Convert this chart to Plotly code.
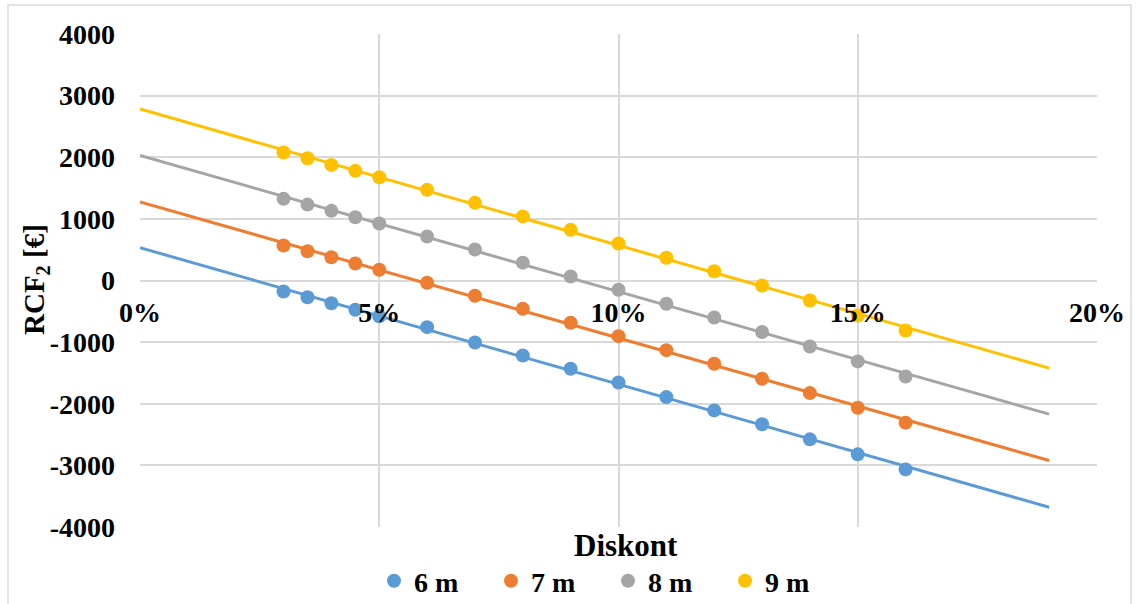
import numpy as np
import plotly.graph_objects as go

# Discount rates (fraction)
discount = [0.03, 0.035, 0.04, 0.045, 0.05, 0.06, 0.07, 0.08, 0.09, 0.10,
            0.11, 0.12, 0.13, 0.14, 0.15, 0.16]

rcf_6m = [-178, -271, -368, -475, -579, -757, -1005, -1216, -1432, -1654,
          -1892, -2108, -2332, -2578, -2821, -3065]
rcf_7m = [568, 475, 378, 276, 174, -37, -248, -459, -686, -903,
          -1130, -1351, -1594, -1827, -2064, -2307]
rcf_8m = [1325, 1232, 1130, 1026, 924, 713, 503, 290, 65, -151,
          -378, -600, -835, -1070, -1313, -1557]
rcf_9m = [2076, 1983, 1876, 1779, 1675, 1471, 1260, 1040, 822, 600,
          368, 151, -81, -324, -568, -811]

series_names = ["6 m", "7 m", "8 m", "9 m"]
series_values = [rcf_6m, rcf_7m, rcf_8m, rcf_9m]
colors = ["#5B9BD5", "#ED7D31", "#A5A5A5", "#FFC000"]

trend_x = [0.0, 0.19]
x_ticks = [0, 0.05, 0.10, 0.15, 0.20]
x_ticklabels = ["0%", "5%", "10%", "15%", "20%"]
y_ticks = [4000, 3000, 2000, 1000, 0, -1000, -2000, -3000, -4000]
y_ticklabels = ["4000", "3000", "2000", "1000", "0", "-1000", "-2000", "-3000", "-4000"]

FONT = "Liberation Serif"

fig = go.Figure()
for name, vals, col in zip(series_names, series_values, colors):
    # linear trend line (computed from data)
    k, q = np.polyfit(discount, vals, 1)
    tx = np.array(trend_x)
    fig.add_trace(go.Scatter(x=tx, y=k * tx + q, mode="lines",
                             line=dict(color=col, width=3),
                             showlegend=False, hoverinfo="skip"))
for name, vals, col in zip(series_names, series_values, colors):
    fig.add_trace(go.Scatter(x=discount, y=vals, mode="markers", name=name,
                             marker=dict(color=col, size=14)))

L, R, T, B = 140, 42, 34, 77
W, H = 1139, 604
pw, ph = W - L - R, H - T - B

def px(xp):
    return (xp - L) / pw

def py(yp):
    return (H - B - yp) / ph

fig.update_layout(
    width=W, height=H,
    margin=dict(l=L, r=R, t=T, b=B, autoexpand=False),
    paper_bgcolor="white", plot_bgcolor="white",
    font=dict(family=FONT, color="black"),
    xaxis=dict(range=[0, 0.2], tickvals=x_ticks, ticktext=x_ticklabels,
               showgrid=True, gridcolor="#D9D9D9", gridwidth=1.5,
               zeroline=False, showline=False,
               anchor="free", position=0.5,
               tickfont=dict(family=FONT, size=28, weight="bold"),
               ticks="", ticklabelstandoff=12),
    yaxis=dict(range=[-4000, 4000], tickvals=y_ticks, ticktext=y_ticklabels,
               showgrid=True, gridcolor="#D9D9D9", gridwidth=1.5,
               zeroline=False, showline=False,
               tickfont=dict(family=FONT, size=28, weight="bold"),
               ticks="", ticklabelstandoff=24),
    legend=dict(orientation="h", x=px(608), y=py(581), xanchor="center",
                yanchor="middle", font=dict(family=FONT, size=28, weight="bold"),
                itemwidth=30, entrywidth=72, entrywidthmode="pixels",
                tracegroupgap=0, bgcolor="rgba(0,0,0,0)"),
    showlegend=True,
)

fig.add_annotation(text="RCF<sub>2</sub> [€]", x=px(36), y=py(280), xref="paper", yref="paper",
                   xanchor="center", yanchor="middle",
                   textangle=-90, showarrow=False,
                   font=dict(family=FONT, size=29, weight="bold"))
fig.add_annotation(text="Diskont", x=px(626), y=py(545), xref="paper", yref="paper",
                   xanchor="center", yanchor="middle",
                   showarrow=False, font=dict(family=FONT, size=31, weight="bold"))

fig.add_shape(type="rect", xref="paper", yref="paper",
              x0=px(8), x1=px(1131), y0=py(612), y1=py(5),
              line=dict(color="#D9D9D9", width=1.5), fillcolor="rgba(0,0,0,0)",
              layer="below")

fig.write_html("out.html")
